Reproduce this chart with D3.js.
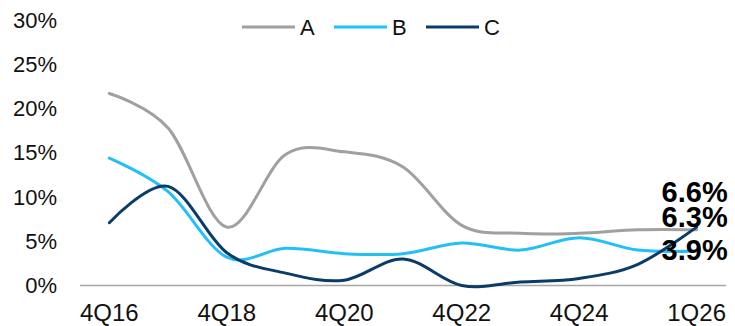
<!DOCTYPE html>
<html>
<head>
<meta charset="utf-8">
<script src="https://cdn.jsdelivr.net/npm/d3@7/dist/d3.min.js"></script>
<style>
  html, body { margin: 0; padding: 0; background: #fff; }
  svg { display: block; font-family: "Liberation Sans", Arial, sans-serif; }
</style>
</head>
<body>
<svg id="chart" width="735" height="326"></svg>
<script>
// Categories along the x axis
const categories = ["4Q16", "4Q17", "4Q18", "4Q19", "4Q20", "4Q21", "4Q22", "4Q23", "4Q24", "4Q25", "1Q26"];
// Tick labels shown on the x axis
const xTickLabels = ["4Q16", "4Q18", "4Q20", "4Q22", "4Q24", "1Q26"];
// Series values (%)
const seriesA = [21.7, 17.8, 6.6, 14.8, 15.1, 13.4, 6.8, 5.9, 5.9, 6.3, 6.3];
const seriesB = [14.4, 10.6, 3.2, 4.2, 3.6, 3.6, 4.8, 4.0, 5.4, 4.0, 3.9];
const seriesC = [7.1, 11.2, 3.7, 1.4, 0.6, 3.0, 0.0, 0.4, 0.8, 2.4, 6.6];
const seriesNames = ["A", "B", "C"];
// Y axis ticks (%)
const yTicks = [0, 5, 10, 15, 20, 25, 30];

const colors = { A: "#A0A0A0", B: "#22C0F5", C: "#0B3C69" };
// vertical nudge of the end-value labels so they don't collide
const labelNudge = { A: -13, B: -1, C: -36 };

const series = [
  { name: "A", values: seriesA },
  { name: "B", values: seriesB },
  { name: "C", values: seriesC }
];

const svg = d3.select("#chart");
const plotLeft = 80, plotRight = 726, plotTop = 20, plotBottom = 285.5;

const x = d3.scaleBand().domain(categories).range([plotLeft, plotRight]);
const cx = c => x(c) + x.bandwidth() / 2;
const y = d3.scaleLinear().domain([0, 30]).range([plotBottom, plotTop]);

// Y axis labels
const yAxis = d3.axisLeft(y).tickValues(yTicks).tickFormat(d => d + "%").tickSize(0).tickPadding(0);
const gy = svg.append("g").attr("transform", "translate(57,0)").call(yAxis);
gy.select(".domain").remove();
gy.selectAll("text").attr("font-size", 22).attr("fill", "#111").attr("font-family", "Liberation Sans, Arial, sans-serif");

// X axis
const xAxis = d3.axisBottom(x).tickValues(xTickLabels).tickSize(0).tickPadding(0);
const gx = svg.append("g").attr("transform", `translate(0,${plotBottom})`).call(xAxis);
gx.select(".domain").remove();
gx.selectAll("text").attr("font-size", 24).attr("fill", "#111").attr("y", 35.5).attr("dy", 0)
  .attr("font-family", "Liberation Sans, Arial, sans-serif");
svg.append("line")
  .attr("x1", plotLeft).attr("x2", plotRight).attr("y1", y(0)).attr("y2", y(0))
  .attr("stroke", "#A6A6A6").attr("stroke-width", 1.5);

// Lines
const line = d3.line()
  .x((d, i) => cx(categories[i]))
  .y(d => y(d))
  .curve(d3.curveCardinal.tension(0));

svg.append("g").selectAll("path").data(series).join("path")
  .attr("d", d => line(d.values))
  .attr("fill", "none")
  .attr("stroke", d => colors[d.name])
  .attr("stroke-width", 3)
  .attr("stroke-linecap", "round");

// End-value labels
const last = categories.length - 1;
svg.append("g").selectAll("text").data(series).join("text")
  .attr("x", cx(categories[last]) - 2)
  .attr("y", d => y(d.values[last]) + labelNudge[d.name])
  .attr("dy", "0.36em")
  .attr("text-anchor", "middle")
  .attr("font-size", 29)
  .attr("font-weight", "bold")
  .attr("fill", "#000")
  .text(d => d.values[last].toFixed(1) + "%");

// Legend
const legend = svg.append("g").attr("transform", "translate(242,27)");
const item = legend.selectAll("g").data(seriesNames).join("g")
  .attr("transform", (d, i) => `translate(${i * 92},0)`);
item.append("line").attr("x1", 0).attr("x2", 53).attr("y1", 0).attr("y2", 0)
  .attr("stroke", d => colors[d]).attr("stroke-width", 3);
item.append("text").attr("x", 58).attr("dy", "0.36em")
  .attr("font-size", 22).attr("fill", "#111").text(d => d);
</script>
</body>
</html>
